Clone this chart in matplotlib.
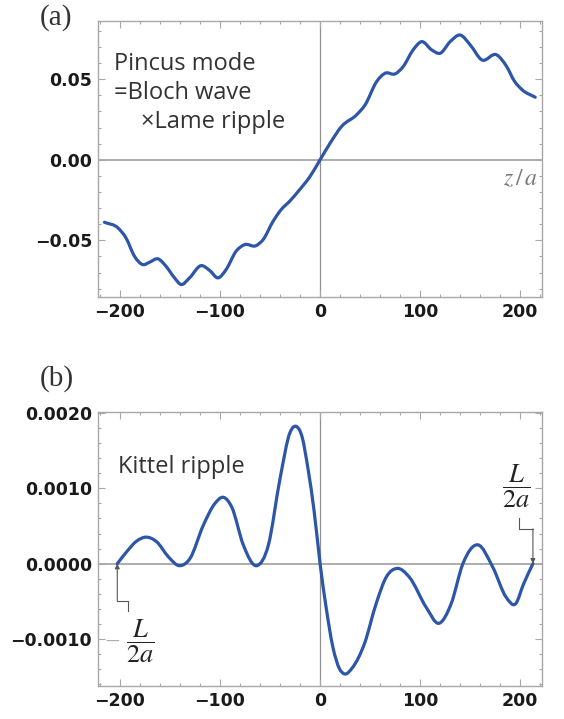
import numpy as np
import matplotlib.pyplot as plt
from matplotlib.ticker import MultipleLocator
from matplotlib.path import Path
from matplotlib.patches import PathPatch

# Pincus mode (Bloch wave x Lame ripple)
za = [-215.5, -202, -194, -185.5, -177, -170.5, -162, -154, -145.5, -139,
      -130.5, -119, -110.5, -102, -94, -84, -75.5, -64, -57, -47, -39, -30.5, -20.5,
      -10, 0, 10, 21.5, 36.5, 45, 56.5, 65, 75, 83, 93, 101.5, 111.5, 120, 130,
      140, 150, 161.5, 176.5, 186.5, 194, 202, 215]
ua = [-0.0388, -0.0423, -0.0485, -0.0599, -0.0651, -0.0636, -0.0615, -0.0661, -0.0733,
      -0.0774, -0.0733, -0.0657, -0.0686, -0.0733, -0.0682, -0.0568,
      -0.0527, -0.0533, -0.0496, -0.0382, -0.031, -0.0258, -0.0186, -0.0103, 0.0,
      0.0103, 0.0207, 0.0279, 0.0341, 0.0485, 0.0537, 0.0533, 0.0578, 0.0682, 0.0733,
      0.0682, 0.0661, 0.0733, 0.0774, 0.0713, 0.062, 0.0651, 0.0578,
      0.0490, 0.0434, 0.0388]

# Kittel ripple
zb = [-202.7, -193.3, -183.3, -174, -163.3, -151.7, -140.7, -130, -116.7, -105, -96.7,
      -88.3, -76.7, -63.3, -51.7, -40, -30, -24, -18, -12, -6, 0, 6, 12.7, 19.3, 24.3,
      32.7, 44.3, 56, 66, 77, 89.3, 106, 118.7, 131, 142.7, 157.7, 172.7, 186, 195.5,
      203.3, 212.7]
ub = [0.0, 0.000159, 0.0003, 0.000352, 0.00029, 0.0000925, -0.000026, 0.00007, 0.00051,
      0.0008, 0.00088, 0.00075, 0.000247, -0.000026, 0.000247, 0.00113, 0.00174, 0.00182,
      0.00168, 0.00125, 0.0007, 0.0, -0.000577, -0.0011, -0.00139, -0.00146, -0.00137,
      -0.00106, -0.00053, -0.00018, -0.000062, -0.00018, -0.000577, -0.00079, -0.00053,
      0.0, 0.00025, -0.000049, -0.000445, -0.00053, -0.00027, 0.0]

xticks = [-200, -100, 0, 100, 200]
xtick_labels = ['\u2212200', '\u2212100', '0', '100', '200']
yticks_a = [-0.05, 0.0, 0.05]
ytick_labels_a = ['\u22120.05', '0.00', '0.05']
yticks_b = [-0.001, 0.0, 0.001, 0.002]
ytick_labels_b = ['\u22120.0010', '0.0000', '0.0010', '0.0020']

plt.rcParams['mathtext.fontset'] = 'stix'
blue = '#2d56a8'
framec = '#a8a8a8'


def smooth_curve(ax, x, y, **kw):
    # cubic Hermite through the samples (slopes from neighbours), as Bezier segments
    x = np.asarray(x, float)
    y = np.asarray(y, float)
    h = np.diff(x)
    s = np.diff(y) / h
    m = np.empty_like(y)
    m[0], m[-1] = s[0], s[-1]
    m[1:-1] = (s[1:] * h[:-1] + s[:-1] * h[1:]) / (h[:-1] + h[1:])
    verts = [(x[0], y[0])]
    codes = [Path.MOVETO]
    for i in range(len(x) - 1):
        d = h[i] / 3
        verts += [(x[i] + d, y[i] + m[i] * d),
                  (x[i + 1] - d, y[i + 1] - m[i + 1] * d),
                  (x[i + 1], y[i + 1])]
        codes += [Path.CURVE4] * 3
    ax.add_patch(PathPatch(Path(verts, codes), fill=False, **kw))


def style(ax, yt, ytl, ymin):
    ax.set_xlim(-221.5, 221.5)
    ax.set_xticks(xticks)
    ax.set_xticklabels(xtick_labels)
    ax.set_yticks(yt)
    ax.set_yticklabels(ytl)
    ax.xaxis.set_minor_locator(MultipleLocator(20))
    ax.yaxis.set_minor_locator(MultipleLocator(ymin))
    ax.tick_params(which='both', direction='in', top=True, right=True,
                   color=framec, width=0.8)
    ax.tick_params(which='major', length=5, pad=4.5, labelsize=12.5, labelcolor='#1a1a1a')
    ax.tick_params(which='minor', length=2.5)
    for lab in ax.get_xticklabels() + ax.get_yticklabels():
        lab.set_family('DejaVu Sans')
        lab.set_weight('bold')
    for s in ax.spines.values():
        s.set_color(framec)
        s.set_linewidth(1.0)
    ax.axhline(0, color='#a0a0a0', lw=1.2, zorder=1)
    ax.axvline(0, color='#909090', lw=0.9, zorder=1)


fig = plt.figure(figsize=(5.64, 7.19), dpi=100)
ax1 = fig.add_axes([0.1746, 0.5873, 0.7859, 0.3828])
ax2 = fig.add_axes([0.1746, 0.0459, 0.7859, 0.3811])

# (a)
smooth_curve(ax1, za, ua, edgecolor=blue, lw=2.3, capstyle='round', joinstyle='round', zorder=3)
ax1.set_ylim(-0.0850, 0.0858)
style(ax1, yticks_a, ytick_labels_a, 0.01)
txt = dict(family='Open Sans', fontsize=17, color='#333333', va='baseline')
ax1.text(0.035, 0.824, 'Pincus mode', transform=ax1.transAxes, **txt)
ax1.text(0.035, 0.718, '=Bloch wave', transform=ax1.transAxes, **txt)
ax1.text(0.095, 0.613, '\u00d7Lame ripple', transform=ax1.transAxes, **txt)
ax1.text(218, -0.0112, r'$z\,/\,a$', ha='right', va='center', fontsize=17, color='#777777')
fig.text(0.07, 0.976, '(a)', family='Liberation Serif', fontsize=21, color='#333333',
         ha='left', va='center')

# (b)
smooth_curve(ax2, zb, ub, edgecolor=blue, lw=2.3, capstyle='round', joinstyle='round', zorder=3)
ax2.set_ylim(-0.00162, 0.00201)
style(ax2, yticks_b, ytick_labels_b, 0.0002)
ax2.text(0.044, 0.777, 'Kittel ripple', transform=ax2.transAxes, **txt)
fig.text(0.07, 0.474, '(b)', family='Liberation Serif', fontsize=21, color='#333333',
         ha='left', va='center')

# end markers -L/2a and L/2a
ac = '#555555'
ax2.plot([-191.7, -191.7, zb[0]], [-0.00062, -0.00049, -0.00049], color=ac, lw=0.8)
ax2.annotate('', xy=(zb[0], 0.0), xytext=(zb[0], -0.00049),
             arrowprops=dict(arrowstyle='-|>', color=ac, lw=0.8, mutation_scale=7,
                             shrinkA=0, shrinkB=0))
ax2.text(-208, -0.00103, '\u2014', ha='center', va='center', fontsize=10, color='#aaaaaa')
ax2.text(-180, -0.00103, r'$\dfrac{L}{2a}$', ha='center', va='center', fontsize=19,
         color='#222222')
ax2.plot([199, 199, zb[-1]], [0.00060, 0.00046, 0.00046], color=ac, lw=0.8)
ax2.annotate('', xy=(zb[-1], 0.0), xytext=(zb[-1], 0.00046),
             arrowprops=dict(arrowstyle='-|>', color=ac, lw=0.8, mutation_scale=7,
                             shrinkA=0, shrinkB=0))
ax2.text(196, 0.00102, r'$\dfrac{L}{2a}$', ha='center', va='center', fontsize=19,
         color='#222222')

fig.savefig('out.png', dpi=100)
